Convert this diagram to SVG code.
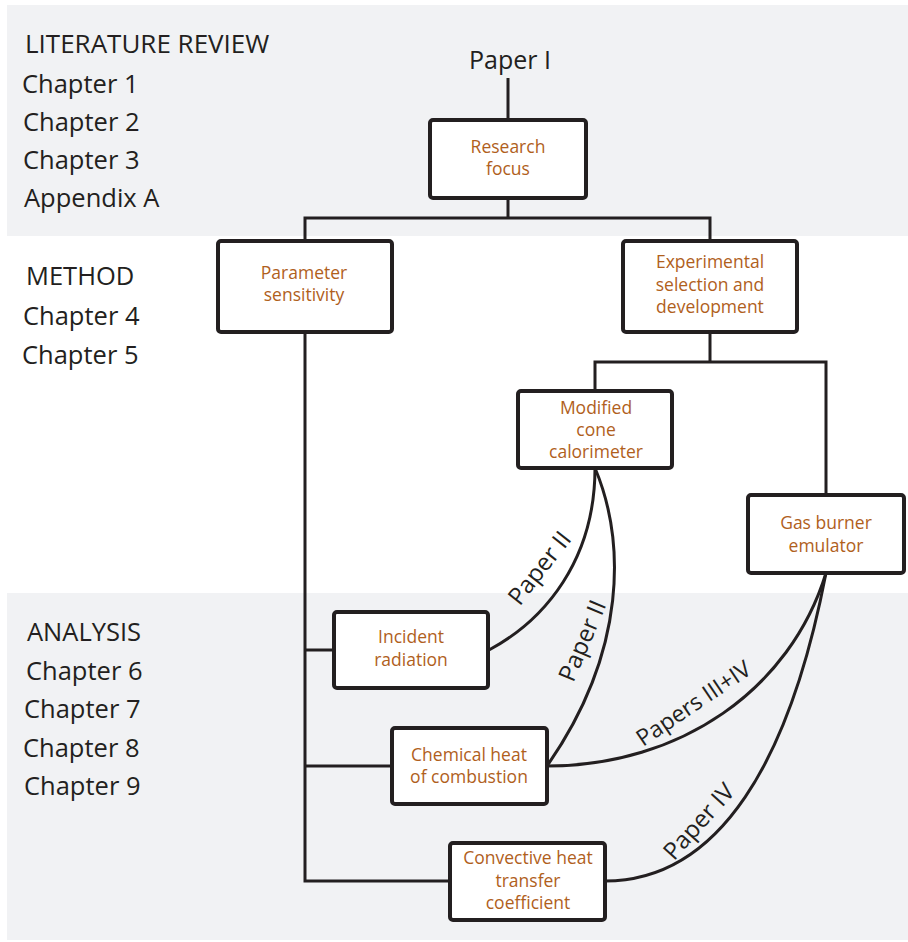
<svg xmlns="http://www.w3.org/2000/svg" width="908" height="942" viewBox="0 0 908 942">
<style>
.band{fill:#f1f2f4}
.box{fill:#fff;stroke:#231f20;stroke-width:4}
.ln{fill:none;stroke:#231f20;stroke-width:3}
.nt{font-family:"Open Sans","Noto Sans","Liberation Sans",sans-serif;font-size:17.5px;fill:#b0601c;text-anchor:middle}
.st{font-family:"Open Sans","Noto Sans","Liberation Sans",sans-serif;font-size:25.5px;fill:#231f20}
.lb{font-family:"Open Sans","Noto Sans","Liberation Sans",sans-serif;font-size:24px;fill:#231f20;text-anchor:middle}
</style>
<rect x="0" y="0" width="908" height="942" fill="#fff"/>
<rect class="band" x="7" y="5" width="901" height="231"/>
<rect class="band" x="7" y="593" width="901" height="347"/>
<g id="sections">
<text class="st" x="25" y="53" style="font-size:26px">LITERATURE REVIEW</text>
<text class="st" x="22" y="93">Chapter 1</text>
<text class="st" x="23" y="131">Chapter 2</text>
<text class="st" x="23" y="169">Chapter 3</text>
<text class="st" x="24" y="207">Appendix A</text>
<text class="st" x="26" y="285">METHOD</text>
<text class="st" x="23" y="325">Chapter 4</text>
<text class="st" x="22" y="364">Chapter 5</text>
<text class="st" x="27" y="641">ANALYSIS</text>
<text class="st" x="26" y="680">Chapter 6</text>
<text class="st" x="24" y="718">Chapter 7</text>
<text class="st" x="23" y="757">Chapter 8</text>
<text class="st" x="24" y="795">Chapter 9</text>
</g>
<g id="connectors">
<line class="ln" x1="508" y1="78" x2="508" y2="120"/>
<polyline class="ln" points="508,198 508,218"/>
<polyline class="ln" points="305,240 305,218 710,218 710,240"/>
<polyline class="ln" points="710,333 710,362"/>
<polyline class="ln" points="595,391 595,362 826,362 826,495"/>
<polyline class="ln" points="305,333 305,881 450,881"/>
<line class="ln" x1="305" y1="650" x2="334" y2="650"/>
<line class="ln" x1="305" y1="766" x2="392" y2="766"/>
<path class="ln" d="M595,468 C595,560 545,620 489,650"/>
<path class="ln" d="M595,468 C625,540 628,650 547,766"/>
<path class="ln" d="M826,573 C790,690 680,766 547,766"/>
<path class="ln" d="M826,573 C790,760 720,881 605,881"/>
<text class="lb" x="510" y="69" style="font-size:25px">Paper I</text>
<text class="lb" transform="translate(546,573) rotate(-52)">Paper II</text>
<text class="lb" transform="translate(590,644) rotate(-67)">Paper II</text>
<text class="lb" transform="translate(698,710) rotate(-34)" style="font-size:23px">Papers III+IV</text>
<text class="lb" transform="translate(705,827) rotate(-48)">Paper IV</text>
</g>
<g id="research-focus">
<rect class="box" x="430" y="120" width="156" height="78" rx="3"/>
<text class="nt" x="508" y="153">Research</text>
<text class="nt" x="508" y="175">focus</text>
</g>
<g id="parameter-sensitivity">
<rect class="box" x="218" y="241" width="174" height="91" rx="3"/>
<text class="nt" x="304" y="279">Parameter</text>
<text class="nt" x="304" y="301">sensitivity</text>
</g>
<g id="experimental">
<rect class="box" x="623" y="241" width="174" height="91" rx="3"/>
<text class="nt" x="710" y="268">Experimental</text>
<text class="nt" x="710" y="291">selection and</text>
<text class="nt" x="710" y="313">development</text>
</g>
<g id="cone-calorimeter">
<rect class="box" x="518" y="391" width="154" height="77" rx="3"/>
<text class="nt" x="596" y="414">Modified</text>
<text class="nt" x="596" y="436">cone</text>
<text class="nt" x="596" y="458">calorimeter</text>
</g>
<g id="gas-burner">
<rect class="box" x="748" y="495" width="156" height="78" rx="3"/>
<text class="nt" x="826" y="529">Gas burner</text>
<text class="nt" x="826" y="552">emulator</text>
</g>
<g id="incident-radiation">
<rect class="box" x="334" y="612" width="154" height="76" rx="3"/>
<text class="nt" x="411" y="643">Incident</text>
<text class="nt" x="411" y="666">radiation</text>
</g>
<g id="chemical-heat">
<rect class="box" x="392" y="728" width="155" height="76" rx="3"/>
<text class="nt" x="469" y="761">Chemical heat</text>
<text class="nt" x="469" y="783">of combustion</text>
</g>
<g id="convective-heat">
<rect class="box" x="450" y="843" width="155" height="77" rx="3"/>
<text class="nt" x="528" y="864">Convective heat</text>
<text class="nt" x="528" y="887">transfer</text>
<text class="nt" x="528" y="909">coefficient</text>
</g>
</svg>
